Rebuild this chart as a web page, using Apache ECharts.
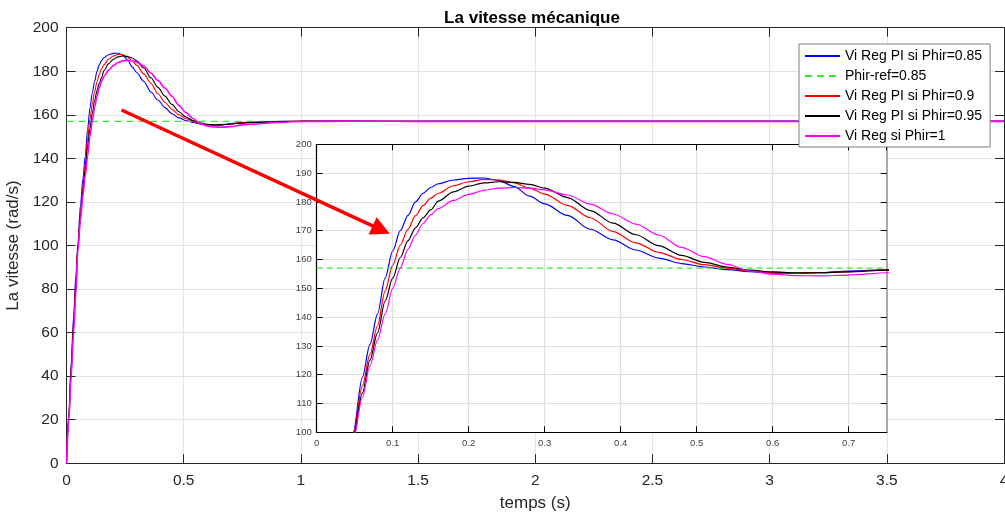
<!DOCTYPE html>
<html>
<head>
<meta charset="utf-8">
<script src="https://cdn.jsdelivr.net/npm/echarts@6/dist/echarts.min.js"></script>
<style>
html,body{margin:0;padding:0;background:#fff;}
#chart{width:1005px;height:515px;}
</style>
</head>
<body>
<div id="chart"></div>
<script>
// ---- data ----
const titleText = 'La vitesse mécanique';
const xName = 'temps (s)';
const yName = 'La vitesse (rad/s)';
const seriesNames = ['Vi Reg PI si Phir=0.85', 'Phir-ref=0.85', 'Vi Reg PI si Phir=0.9', 'Vi Reg PI si Phir=0.95', 'Vi Reg si Phir=1'];

const t = [0, 0.01, 0.02, 0.03, 0.04, 0.048, 0.06, 0.07, 0.08, 0.09, 0.1, 0.11, 0.12, 0.13, 0.14, 0.15, 0.16, 0.18, 0.2, 0.22, 0.24, 0.26, 0.28, 0.3, 0.33, 0.36, 0.39, 0.42, 0.45, 0.48, 0.51, 0.54, 0.57, 0.6, 0.63, 0.66, 0.7, 0.75, 0.8, 0.9, 1.0, 1.2, 1.5, 2, 2.5, 3, 3.5, 4];
const vPhi085 = [0, 23, 46, 67, 86, 100, 119, 130.5, 141, 153.5, 163, 170, 175.3, 180, 183, 185, 186.3, 187.6, 188.2, 188.3, 187.4, 185.3, 182, 179.3, 175.3, 170.5, 166.8, 163.3, 160.5, 158.6, 157.4, 156.5, 155.8, 155.3, 155.2, 155.4, 156, 156.4, 156.7, 157, 157.1, 157.1, 157, 157, 157, 157, 157, 157];
const vPhi090 = [0, 22, 44, 65, 84, 99, 116, 127, 137, 149, 158, 165, 170.5, 175.2, 178.7, 181.3, 183, 185.6, 187, 187.8, 187.6, 186.6, 184.8, 182.7, 178.8, 174.5, 169.7, 165.8, 162.5, 160, 158.2, 157, 156, 155.5, 155.3, 155.4, 155.8, 156.4, 156.6, 156.9, 157.1, 157.1, 157, 157, 157, 157, 157, 157];
const vPhi095 = [0, 21, 42, 63, 81, 98, 113.5, 125, 134.5, 145.5, 153.5, 160.7, 166.5, 171, 174.5, 177.2, 180.3, 183.5, 185.5, 186.6, 187, 186.8, 186.1, 184.8, 181.5, 177, 172.6, 168.6, 164.8, 161.4, 159, 157.4, 156.3, 155.7, 155.4, 155.4, 155.7, 156.3, 156.5, 156.8, 157, 157.1, 157, 157, 157, 157, 157, 157];
const vPhi100 = [0, 20, 40, 60, 78, 97, 112, 123, 132, 141, 150, 157, 163.5, 168.5, 172.5, 175.5, 177.7, 180.5, 182.6, 184, 184.8, 185, 184.8, 184.2, 182.4, 179.2, 175.8, 172.3, 168.5, 164.2, 161, 158.3, 156, 154.9, 154.4, 154.3, 154.6, 155.4, 155.8, 156.5, 156.9, 157.1, 157, 157, 157, 157, 157, 157];
const refValue = 157;

const mainXTicks = {min: 0, max: 4, interval: 0.5};
const mainYTicks = {min: 0, max: 200, interval: 20};
const insetXTicks = {min: 0, max: 0.75, interval: 0.1};
const insetYTicks = {min: 100, max: 200, interval: 10};

// annotation arrow (data coordinates of the main axes)
const arrowStart = [0.235, 162.2];
const arrowEnd = [1.343, 107.2];

// ---- build ----
const colors = ['#0000ff', '#33ee33', '#ff0000', '#000000', '#ff00ff'];
const FONT = '"Liberation Sans", Arial, Helvetica, sans-serif';
const AX = '#262626';

function pairs(xs, ys) { return xs.map((x, i) => [x, ys[i]]); }
const curves = [vPhi085, null, vPhi090, vPhi095, vPhi100];

function axisBase(extra) {
  return Object.assign({
    type: 'value',
    axisLine: {show: true, onZero: false, lineStyle: {color: AX, width: 1}},
    axisTick: {show: true, inside: true, length: 9, lineStyle: {color: AX}},
    splitLine: {show: false},
    axisLabel: {show: false}
  }, extra);
}

const xAxes = [
  axisBase(Object.assign({gridIndex: 0, position: 'bottom', name: xName, nameLocation: 'middle', nameGap: 32,
    nameTextStyle: {fontFamily: FONT, fontSize: 17, color: AX},
    axisLabel: {show: true, fontFamily: FONT, fontSize: 15.5, color: AX, margin: 9},
    splitLine: {show: true, lineStyle: {color: '#e4e4e4', width: 1}}}, mainXTicks)),
  axisBase(Object.assign({gridIndex: 0, position: 'top'}, mainXTicks)),
  axisBase(Object.assign({gridIndex: 1, position: 'bottom', z: 4,
    axisLine: {show: true, onZero: false, lineStyle: {color: '#000', width: 1.2}},
    axisTick: {show: true, inside: true, length: 6, lineStyle: {color: '#000'}},
    axisLabel: {show: true, fontFamily: FONT, fontSize: 9.5, color: '#404040', margin: 6, showMaxLabel: false},
    splitLine: {show: true, lineStyle: {color: '#dedede', width: 1.2}}}, insetXTicks)),
  axisBase(Object.assign({gridIndex: 1, position: 'top', z: 4,
    axisLine: {show: true, onZero: false, lineStyle: {color: '#000', width: 1.2}},
    axisTick: {show: true, inside: true, length: 6, lineStyle: {color: '#000'}}}, insetXTicks))
];
const yAxes = [
  axisBase(Object.assign({gridIndex: 0, position: 'left', name: yName, nameLocation: 'middle', nameGap: 36,
    nameTextStyle: {fontFamily: FONT, fontSize: 17, color: AX},
    axisLabel: {show: true, fontFamily: FONT, fontSize: 15.5, color: AX, margin: 8},
    splitLine: {show: true, lineStyle: {color: '#e4e4e4', width: 1}}}, mainYTicks)),
  axisBase(Object.assign({gridIndex: 0, position: 'right'}, mainYTicks)),
  axisBase(Object.assign({gridIndex: 1, position: 'left', z: 4,
    axisLine: {show: true, onZero: false, lineStyle: {color: '#000', width: 1.2}},
    axisTick: {show: true, inside: true, length: 6, lineStyle: {color: '#000'}},
    axisLabel: {show: true, fontFamily: FONT, fontSize: 9.5, color: '#404040', margin: 5},
    splitLine: {show: true, lineStyle: {color: '#dedede', width: 1.2}}}, insetYTicks)),
  axisBase(Object.assign({gridIndex: 1, position: 'right', z: 4,
    axisLine: {show: true, onZero: false, lineStyle: {color: '#a8a8a8', width: 2}},
    axisTick: {show: true, inside: true, length: 6, lineStyle: {color: '#000'}}}, insetYTicks))
];

const series = [];
// main axes
seriesNames.forEach((name, i) => {
  const isRef = i === 1;
  series.push({
    name: name, type: 'line', xAxisIndex: 0, yAxisIndex: 0,
    data: isRef ? [[mainXTicks.min, refValue], [mainXTicks.max, refValue]] : pairs(t, curves[i]),
    showSymbol: false, symbol: 'none', smooth: isRef ? false : 0.3, smoothMonotone: 'x',
    color: colors[i],
    itemStyle: {opacity: 0},
    lineStyle: {color: colors[i], width: i === 4 ? 1.6 : 1.1, type: isRef ? [7, 5] : 'solid'},
    emphasis: {disabled: true}, z: 2
  });
});
// inset axes
seriesNames.forEach((name, i) => {
  const isRef = i === 1;
  series.push({
    name: name, type: 'line', xAxisIndex: 2, yAxisIndex: 2,
    data: isRef ? [[insetXTicks.min, refValue], [insetXTicks.max, refValue]] : pairs(t, curves[i]),
    showSymbol: false, symbol: 'none', smooth: isRef ? false : 0.3, smoothMonotone: 'x', clip: true,
    color: colors[i],
    itemStyle: {opacity: 0},
    lineStyle: {color: colors[i], width: 1.2, type: isRef ? [6, 4] : 'solid'},
    emphasis: {disabled: true}, z: 5
  });
});
// arrow annotation
series.push({
  type: 'lines', coordinateSystem: 'cartesian2d', xAxisIndex: 0, yAxisIndex: 0, z: 10,
  silent: true, symbol: ['none', 'triangle'], symbolSize: [13, 19],
  lineStyle: {color: '#ff0000', width: 3.5, opacity: 1, curveness: 0},
  data: [{coords: [arrowStart, arrowEnd]}]
});

const option = {
  animation: false,
  backgroundColor: '#ffffff',
  title: {text: titleText, left: 527, top: 5, textAlign: 'center',
    textStyle: {fontFamily: FONT, fontSize: 17, fontWeight: 'bold', color: '#000'}},
  legend: {
    data: seriesNames, orient: 'vertical', left: 799, top: 44, z: 20,
    backgroundColor: '#ffffff', borderColor: '#808080', borderWidth: 1,
    padding: [5, 8, 4, 5], itemWidth: 35, itemHeight: 13, itemGap: 6,
    itemStyle: {opacity: 0, borderWidth: 0},
    textStyle: {fontFamily: FONT, fontSize: 14, color: '#000'},
    selectedMode: false
  },
  grid: [
    {left: 66.5, top: 27.7, width: 937.5, height: 435.6, show: false, containLabel: false, outerBoundsMode: 'none'},
    {left: 316.7, top: 144.3, width: 570, height: 288, show: true, backgroundColor: '#ffffff', borderWidth: 0, z: 3, containLabel: false, outerBoundsMode: 'none'}
  ],
  xAxis: xAxes,
  yAxis: yAxes,
  series: series
};

const chart = echarts.init(document.getElementById('chart'), null, {renderer: 'canvas'});
chart.setOption(option);
</script>
</body>
</html>
